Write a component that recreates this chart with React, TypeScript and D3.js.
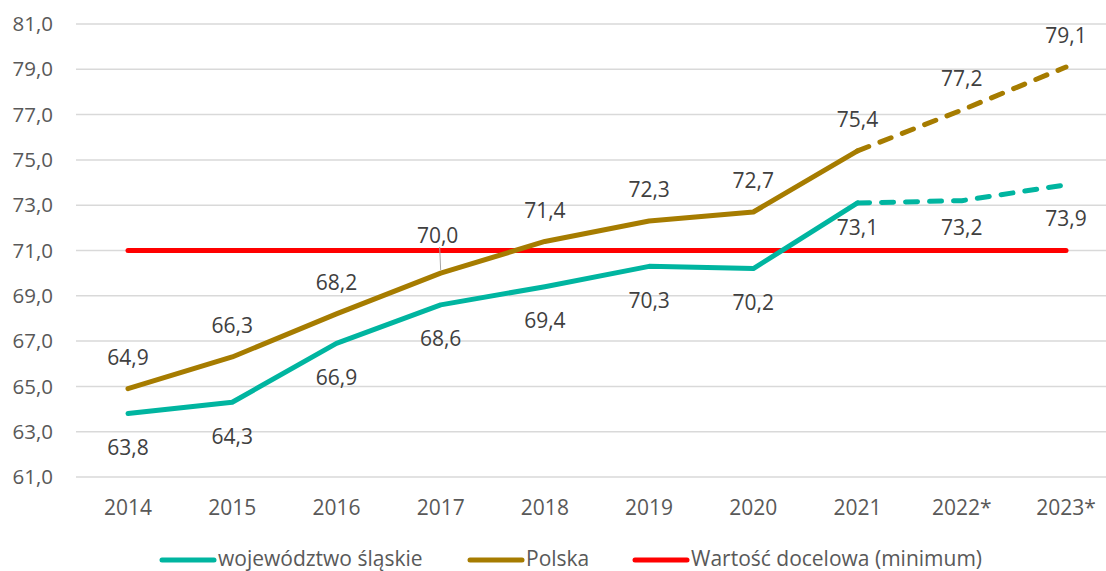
import React from "react";
import * as d3 from "d3";

const years = ["2014", "2015", "2016", "2017", "2018", "2019", "2020", "2021", "2022*", "2023*"];
const slaskie = [63.8, 64.3, 66.9, 68.6, 69.4, 70.3, 70.2, 73.1, 73.2, 73.9];
const polska = [64.9, 66.3, 68.2, 70.0, 71.4, 72.3, 72.7, 75.4, 77.2, 79.1];
const target = 71.0;
const yTicks = [61, 63, 65, 67, 69, 71, 73, 75, 77, 79, 81];
const forecastFrom = 7; // index of 2021, dashed after it

const W = 1106;
const H = 571;
const TEAL = "#00b5a0";
const GOLD = "#a67c00";
const RED = "#ff0000";
const FONT = "'Open Sans', 'Liberation Sans', sans-serif";

const fmt = (v: number) => v.toFixed(1).replace(".", ",");

export default function App() {
  const x = d3.scalePoint<string>().domain(years).range([128, 1066]);
  const y = d3.scaleLinear().domain([61, 81]).range([477, 24]);

  const lineGen = d3
    .line<number | null>()
    .defined((d) => d !== null)
    .x((_, i) => x(years[i])!)
    .y((d) => y(d as number));

  // solid part up to 2021, dashed forecast after
  const segs = (vals: number[]) => ({
    solid: lineGen(vals.map((v, i) => (i <= forecastFrom ? v : null))) || "",
    dashed: lineGen(vals.map((v, i) => (i >= forecastFrom ? v : null))) || "",
  });

  const redY = y(target);

  const series = [
    { vals: slaskie, paths: segs(slaskie), color: TEAL },
    { vals: polska, paths: segs(polska), color: GOLD },
  ];

  const legend = [
    { label: "województwo śląskie", color: TEAL, x: 160 },
    { label: "Polska", color: GOLD, x: 468 },
    { label: "Wartość docelowa (minimum)", color: RED, x: 633 },
  ];

  return (
    <svg
      width={W}
      height={H}
      style={{ position: "absolute", left: 0, top: 0, background: "#fff" }}
      fontFamily={FONT}
    >
      {/* gridlines + y labels */}
      {yTicks.map((t) => (
        <g key={t}>
          <line x1={76} x2={W} y1={y(t)} y2={y(t)} stroke="#d9d9d9" strokeWidth={1.5} />
          <text x={53} y={y(t)} dy="0.35em" textAnchor="end" fontSize={20.5} fill="#595959">
            {fmt(t)}
          </text>
        </g>
      ))}

      {/* x labels */}
      {years.map((yr) => (
        <text key={yr} x={x(yr)} y={508} dy="0.35em" textAnchor="middle" fontSize={21} fill="#595959">
          {yr}
        </text>
      ))}

      {/* target line */}
      <line x1={x(years[0])} x2={x(years[years.length - 1])} y1={redY} y2={redY} stroke={RED} strokeWidth={5} strokeLinecap="round" />

      {series.map((s, k) => (
        <g key={k}>
          <path d={s.paths.solid} fill="none" stroke={s.color} strokeWidth={5} strokeLinejoin="round" strokeLinecap="round" />
          <path d={s.paths.dashed} fill="none" stroke={s.color} strokeWidth={5} strokeLinejoin="round" strokeLinecap="round" strokeDasharray="12 12" />
        </g>
      ))}

      {/* leader line for 2017 Polska label */}
      <line x1={x("2017")! - 1} x2={x("2017")} y1={247} y2={y(polska[3]) - 3} stroke="#a6a6a6" strokeWidth={1} />

      {/* data labels */}
      {polska.map((v, i) => {
        const ly = i === 3 ? redY - 15 : y(v) - 31;
        return (
          <text key={"p" + i} x={x(years[i])! + (i === 3 ? -3 : 0)} y={ly} dy="0.35em" textAnchor="middle" fontSize={21} fill="#404040">
            {fmt(v)}
          </text>
        );
      })}
      {slaskie.map((v, i) => {
        const ly = v > target ? Math.min(y(v) + 34, redY - 23) : y(v) + 34;
        return (
          <text key={"s" + i} x={x(years[i])!} y={ly} dy="0.35em" textAnchor="middle" fontSize={21} fill="#404040">
            {fmt(v)}
          </text>
        );
      })}

      {/* legend */}
      {legend.map((l) => (
        <g key={l.label}>
          <line x1={l.x + 2} x2={l.x + 54} y1={560} y2={560} stroke={l.color} strokeWidth={5} strokeLinecap="round" />
          <text x={l.x + 58} y={566} fontSize={21} fill="#595959">
            {l.label}
          </text>
        </g>
      ))}
    </svg>
  );
}
